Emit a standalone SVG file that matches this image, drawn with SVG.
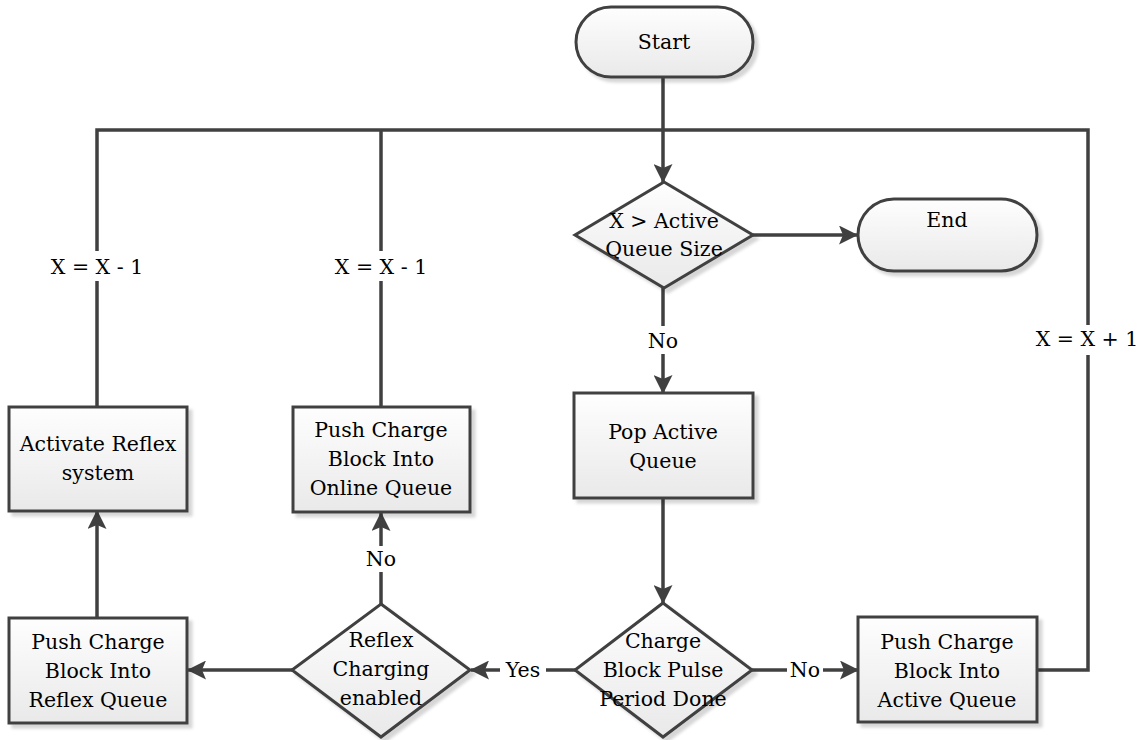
<svg xmlns="http://www.w3.org/2000/svg" width="1147" height="740" viewBox="0 0 1147 740">
  <style>
    .shape { stroke: #404040; stroke-width: 3; fill: url(#fillGrad); filter: url(#shadow); }
    .wire { stroke: #404040; stroke-width: 3.5; fill: none; }
    .arrow { marker-end: url(#head); }
    text { font-family: 'DejaVu Serif', 'Liberation Serif', serif; font-size: 20.5px; fill: #000; text-anchor: middle; }
    .lbg { fill: #fff; stroke: none; }
  </style>
  <defs>
    <linearGradient id="fillGrad" x1="0" y1="0" x2="0" y2="1">
      <stop offset="0" stop-color="#fefefe"/>
      <stop offset="1" stop-color="#e9e9e9"/>
    </linearGradient>
    <filter id="shadow" x="-10%" y="-10%" width="130%" height="130%">
      <feDropShadow dx="4" dy="4" stdDeviation="1.5" flood-color="#000" flood-opacity="0.16"/>
    </filter>
    <marker id="head" viewBox="0 0 19 19" refX="18" refY="9.5" markerWidth="19" markerHeight="19" markerUnits="userSpaceOnUse" orient="auto">
      <path d="M0,0 L19,9.5 L0,19 L4,9.5 Z" fill="#404040"/>
    </marker>
  </defs>

  <!-- connectors -->
  <g id="connectors">
    <path class="wire arrow" d="M663,77 V182"/>
    <path class="wire" d="M97,407 V130 H1088 V670 H1037"/>
    <path class="wire" d="M381,407 V130"/>
    <path class="wire arrow" d="M753,235 H857"/>
    <path class="wire arrow" d="M663,288 V393"/>
    <path class="wire arrow" d="M663,498 V603"/>
    <path class="wire arrow" d="M752,670 H858"/>
    <path class="wire arrow" d="M575,670 H471"/>
    <path class="wire arrow" d="M292,670 H188"/>
    <path class="wire arrow" d="M381,604 V513"/>
    <path class="wire arrow" d="M97,618 V511"/>

    <!-- edge labels -->
    <rect class="lbg" x="46" y="251" width="102" height="30"/>
    <text x="97" y="274">X = X - 1</text>
    <rect class="lbg" x="330" y="251" width="102" height="30"/>
    <text x="381" y="274">X = X - 1</text>
    <rect class="lbg" x="1034" y="325" width="108" height="30"/>
    <text x="1087" y="346">X = X + 1</text>
    <rect class="lbg" x="645" y="326" width="36" height="28"/>
    <text x="663" y="348">No</text>
    <rect class="lbg" x="363" y="546" width="36" height="26"/>
    <text x="381" y="566">No</text>
    <rect class="lbg" x="500" y="657" width="46" height="24"/>
    <text x="523" y="677">Yes</text>
    <rect class="lbg" x="787" y="657" width="36" height="24"/>
    <text x="805" y="677">No</text>
  </g>

  <g id="start">
    <rect class="shape" x="576" y="7" width="177" height="70" rx="35" ry="35"/>
    <text x="664" y="49">Start</text>
  </g>

  <g id="check-size">
    <polygon class="shape" points="664,182 753,235 664,288 575,235"/>
    <text x="664" y="228">X &gt; Active</text>
    <text x="664" y="256">Queue Size</text>
  </g>

  <g id="end">
    <rect class="shape" x="858" y="199" width="179" height="72" rx="36" ry="36"/>
    <text x="947" y="227">End</text>
  </g>

  <g id="pop-active">
    <rect class="shape" x="574" y="393" width="179" height="105"/>
    <text x="663" y="439">Pop Active</text>
    <text x="663" y="468">Queue</text>
  </g>

  <g id="pulse-done">
    <polygon class="shape" points="663,603 752,670 663,737 575,670"/>
    <text x="663" y="648">Charge</text>
    <text x="663" y="677">Block Pulse</text>
    <text x="663" y="706">Period Done</text>
  </g>

  <g id="push-active">
    <rect class="shape" x="858" y="617" width="179" height="105"/>
    <text x="947" y="649">Push Charge</text>
    <text x="947" y="678">Block Into</text>
    <text x="947" y="707">Active Queue</text>
  </g>

  <g id="reflex-enabled">
    <polygon class="shape" points="381,604 470,670 381,737 292,670"/>
    <text x="381" y="647">Reflex</text>
    <text x="381" y="676">Charging</text>
    <text x="381" y="705">enabled</text>
  </g>

  <g id="push-reflex">
    <rect class="shape" x="9" y="618" width="178" height="105"/>
    <text x="98" y="649">Push Charge</text>
    <text x="98" y="678">Block Into</text>
    <text x="98" y="707">Reflex Queue</text>
  </g>

  <g id="push-online">
    <rect class="shape" x="293" y="407" width="177" height="105"/>
    <text x="381" y="437">Push Charge</text>
    <text x="381" y="466">Block Into</text>
    <text x="381" y="495">Online Queue</text>
  </g>

  <g id="activate-reflex">
    <rect class="shape" x="9" y="407" width="178" height="104"/>
    <text x="98" y="451">Activate Reflex</text>
    <text x="98" y="480">system</text>
  </g>
</svg>
